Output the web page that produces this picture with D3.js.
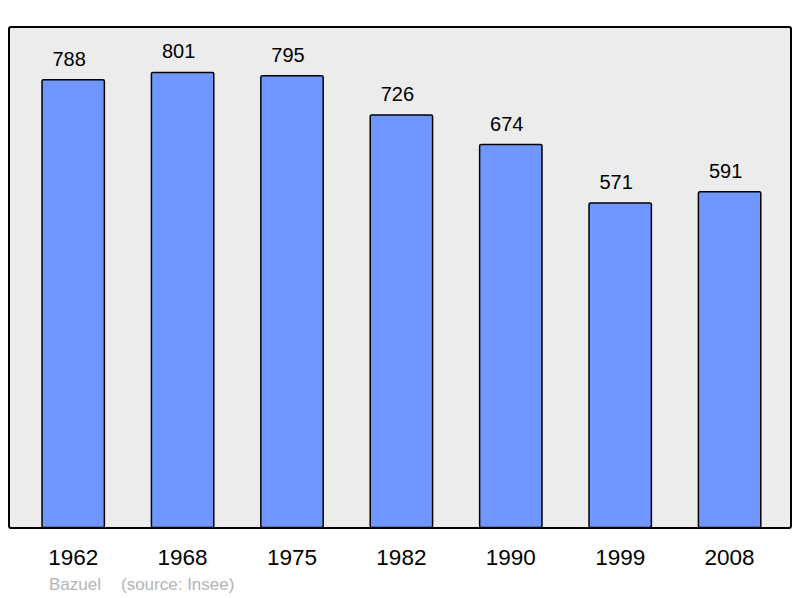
<!DOCTYPE html>
<html>
<head>
<meta charset="utf-8">
<script src="https://cdn.jsdelivr.net/npm/d3@7"></script>
<style>
  body { margin: 0; background: #fff; }
  svg { display: block; }
</style>
</head>
<body>
<svg id="chart" width="800" height="598"></svg>
<script>
// Population data (Insee)
const years  = ['1962', '1968', '1975', '1982', '1990', '1999', '2008'];
const values = [788, 801, 795, 726, 674, 571, 591];
const commune = 'Bazuel';
const source  = '(source: Insee)';

const svg = d3.select('#chart');
const FONT = 'Liberation Sans, Arial, sans-serif';

// Frame
const panel = { x: 9, y: 27, w: 782, h: 501 };

svg.append('rect')
  .attr('x', panel.x).attr('y', panel.y)
  .attr('width', panel.w).attr('height', panel.h)
  .attr('rx', 2).attr('ry', 2)
  .attr('fill', '#ececec')
  .attr('stroke', '#000')
  .attr('stroke-width', 2);

const x = d3.scaleBand()
  .domain(years)
  .range([18.5, 784.3])
  .paddingInner(0.43)
  .paddingOuter(0.215);

const y = d3.scaleLinear()
  .domain([0, 881])
  .range([527.5, 27]);

const data = years.map((yr, i) => ({ year: yr, value: values[i] }));

// Bars
svg.selectAll('.bar')
  .data(data)
  .enter().append('rect')
  .attr('class', 'bar')
  .attr('x', d => x(d.year))
  .attr('y', d => y(d.value))
  .attr('width', x.bandwidth())
  .attr('height', d => y(0) - y(d.value))
  .attr('rx', 1.5).attr('ry', 1.5)
  .attr('fill', '#7097ff')
  .attr('stroke', '#000')
  .attr('stroke-width', 1.5);

// Value labels (sit slightly left of the bar centre, as in the original)
svg.selectAll('.val')
  .data(data)
  .enter().append('text')
  .attr('class', 'val')
  .attr('x', d => x(d.year) + x.bandwidth() / 2 - 4)
  .attr('y', d => y(d.value) - 14)
  .attr('text-anchor', 'middle')
  .attr('font-family', FONT)
  .attr('font-size', 20)
  .attr('fill', '#000')
  .text(d => d.value);

// Year labels
svg.selectAll('.year')
  .data(data)
  .enter().append('text')
  .attr('class', 'year')
  .attr('x', d => x(d.year) + x.bandwidth() / 2)
  .attr('y', 565)
  .attr('text-anchor', 'middle')
  .attr('font-family', FONT)
  .attr('font-size', 22.5)
  .attr('fill', '#000')
  .text(d => d.year);

// Footer
svg.append('text')
  .attr('x', 49).attr('y', 590)
  .attr('font-family', FONT)
  .attr('font-size', 17)
  .attr('fill', '#b4b4b4')
  .text(commune);

svg.append('text')
  .attr('x', 121).attr('y', 590)
  .attr('font-family', FONT)
  .attr('font-size', 17)
  .attr('fill', '#b4b4b4')
  .text(source);
</script>
</body>
</html>
